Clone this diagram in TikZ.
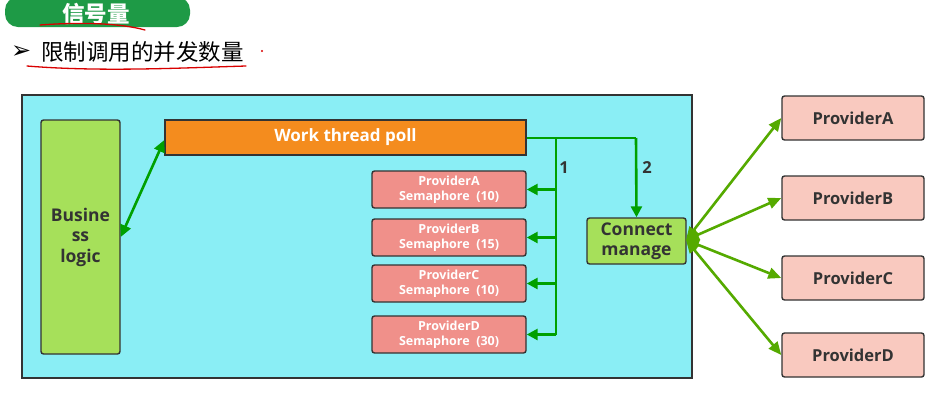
\documentclass[tikz,border=0pt]{standalone}
\usepackage{fontspec}
\setmainfont{Open Sans}
\newfontfamily\cjk{Noto Sans CJK SC}
\newfontfamily\dejavu{DejaVu Sans}
\usetikzlibrary{arrows.meta}
\definecolor{cyanbg}{HTML}{8AEEF5}
\definecolor{limeg}{HTML}{A6E05A}
\definecolor{orangeb}{HTML}{F48C1E}
\definecolor{salmon}{HTML}{F0908A}
\definecolor{pinkb}{HTML}{F9C9BF}
\definecolor{darkg}{HTML}{00A000}
\definecolor{yg}{HTML}{55AA00}
\definecolor{pillg}{HTML}{1E9A46}
\definecolor{edgec}{HTML}{333333}
\begin{document}
\begin{tikzpicture}[x=1pt,y=-1pt,
  box/.style={draw=edgec,line width=1.4pt,rounded corners=2.5pt,inner sep=0pt,align=center},
  sema/.style={box,fill=salmon,text=white,minimum width=154pt,minimum height=37pt,font=\bfseries\fontsize{12.5}{15}\selectfont},
  prov/.style={box,fill=pinkb,text=edgec,minimum width=142pt,minimum height=44pt,font=\bfseries\fontsize{16.5}{19}\selectfont},
  garrow/.style={draw=darkg,line width=2.6pt,-{Triangle[length=11pt,width=11pt]}},
  yarrow/.style={draw=yg,line width=2.6pt,{Triangle[length=13pt,width=11pt]}-{Triangle[length=13pt,width=11pt]}},
  redline/.style={draw=red!85!black,line width=1.3pt,line cap=round}
]
\useasboundingbox (0,0) rectangle (935,400);
\fill[white] (0,0) rectangle (935,400);
% title pill
\node[fill=pillg,rounded corners=13pt,minimum width=185pt,minimum height=30pt,inner sep=0pt,text=white,font=\cjk\bfseries\fontsize{22.5}{24}\selectfont] (title) at (97.5,12) {};
\node[text=white,inner sep=0pt,font=\cjk\bfseries\fontsize{22.5}{24}\selectfont] (titletext) at (96,14) {信号量};
\draw[redline] (40,25) .. controls (80,22) and (120,23) .. (145,30);
% bullet
\node[anchor=west,inner sep=0pt,font=\dejavu\bfseries\fontsize{24}{26}\selectfont] (bul) at (11,52) {➢};
\node[anchor=west,inner sep=0pt,font=\cjk\fontsize{22.5}{25}\selectfont] (sub) at (41,52) {限制调用的并发数量};
\draw[redline] (27,66) .. controls (100,72) and (180,68) .. (246,66);
\fill[red!85!black] (262,51) circle (1.2pt);
% big box
\node[draw=edgec,line width=1.4pt,fill=cyanbg,minimum width=670pt,minimum height=283pt,inner sep=0pt] (main) at (357,236.5) {};
% business logic
\node[box,fill=limeg,text=edgec,minimum width=79pt,minimum height=234pt,font=\bfseries\fontsize{17.5}{20.5}\selectfont] (biz) at (80.5,237) {Busine\\ss\\logic};
% work thread
\node[draw=edgec,line width=1.4pt,fill=orangeb,text=white,minimum width=361pt,minimum height=35pt,inner sep=0pt,font=\bfseries\fontsize{17}{20}\selectfont] (work) at (345.5,137.5) {Work thread poll};
% semaphores
\node[sema] (sa) at (449,189.5) {ProviderA\\Semaphore\ \ (10)};
\node[sema] (sb) at (449,237.5) {ProviderB\\Semaphore\ \ (15)};
\node[sema] (sc) at (449,283.5) {ProviderC\\Semaphore\ \ (10)};
\node[sema] (sd) at (449,334.5) {ProviderD\\Semaphore\ \ (30)};
% connect manage
\node[box,fill=limeg,text=edgec,minimum width=99pt,minimum height=46pt,font=\bfseries\fontsize{17.5}{20}\selectfont] (cm) at (636.5,241) {Connect\\manage};
% right providers
\node[prov] (pa) at (853,118) {ProviderA};
\node[prov] (pb) at (853,198) {ProviderB};
\node[prov] (pc) at (853,278) {ProviderC};
\node[prov] (pd) at (853,355) {ProviderD};
% arrows
\draw[draw=darkg,line width=2.6pt,{Triangle[length=12pt,width=11pt]}-{Triangle[length=12pt,width=11pt]}] (biz.east |- 0,237) -- (work.west |- 0,140);
\coordinate (j) at (556,138);
\coordinate (k) at (636,138);
\draw[darkg,line width=2.6pt] (work.east |- j) -- (k);
\draw[darkg,line width=2.6pt] (j) -- (556,334.5);
\draw[garrow] (j |- sa.east) -- (sa.east);
\draw[garrow] (j |- sb.east) -- (sb.east);
\draw[garrow] (j |- sc.east) -- (sc.east);
\draw[garrow] (j |- sd.east) -- (sd.east);
\draw[garrow] (k) -- (cm.north);
\node[font=\bfseries\fontsize{16.5}{18}\selectfont,text=edgec] (l1) at (564,168) {1};
\node[font=\bfseries\fontsize{16.5}{18}\selectfont,text=edgec] (l2) at (647,168) {2};
\coordinate (cmr) at (686,240);
\draw[yarrow] (cmr) -- (pa.west);
\draw[yarrow] (cmr) -- (pb.west);
\draw[yarrow] (cmr) -- (pc.west);
\draw[yarrow] (cmr) -- (pd.west);
\end{tikzpicture}
\end{document}
